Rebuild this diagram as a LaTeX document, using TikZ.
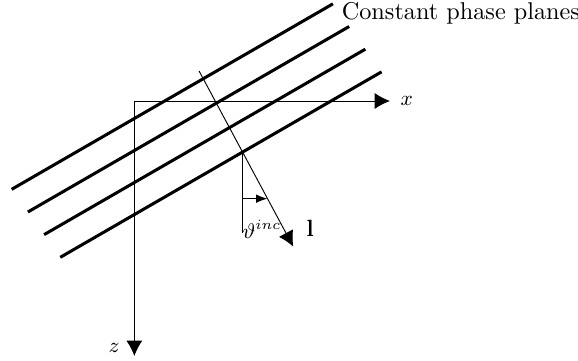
\documentclass[tikz,border=0pt]{standalone}
\usepackage{amsmath,amssymb,bm}
\usepackage{tikz}
\usetikzlibrary{arrows.meta,calc,positioning}
\tikzset{
  plane/.style={line width=1.3pt},
  bigarrow/.style={-{Latex[length=0.23cm,width=0.24cm]}},
  smallarrow/.style={-{Latex[length=0.17cm,width=0.13cm]}},
}

\begin{document}
\begin{tikzpicture}[scale=1,>=Latex]
\useasboundingbox (0,0) rectangle (8.67,5.4);
% axes
\coordinate (O) at (2.015,3.885);
\coordinate (xend) at (5.85,3.885);
\coordinate (zend) at (2.015,0.06);
\draw[bigarrow] (O)--(xend);
\draw[bigarrow] (O)--(zend);
\node[font=\small] (xlab) at (6.1,3.885) {$x$};
\node[font=\small] (zlab) at (1.71,0.18) {$z$};
% constant phase planes
\foreach \i in {0,...,3}{
  \coordinate (s\i) at ($(0.175,2.56)+\i*(0.243,-0.34)$);
  \draw[plane] (s\i) -- ++(30:5.565) coordinate (e\i);
}
\node[anchor=west,inner sep=0pt,scale=1.035] (planes) at (5.12,5.2) {Constant phase planes};
% incident direction
\coordinate (P) at (3.635,3.125);
\coordinate (rs) at ($(P)+(118.2:1.373)$);
\coordinate (re) at ($(P)+(-61.8:1.617)$);
\draw[bigarrow] (rs)--(re);
\node (lab) at (4.65,1.98) {$\mathbf{l}$};
\coordinate (vb) at (3.635,1.90);
\draw (P)--(vb);
\coordinate (a1) at (3.635,2.42);
\coordinate (a2) at (4.01,2.42);
\draw[smallarrow] (a1)--(a2);
\node[font=\small] (th) at (3.93,1.965) {$\vartheta^{inc}$};
\end{tikzpicture}
\end{document}
